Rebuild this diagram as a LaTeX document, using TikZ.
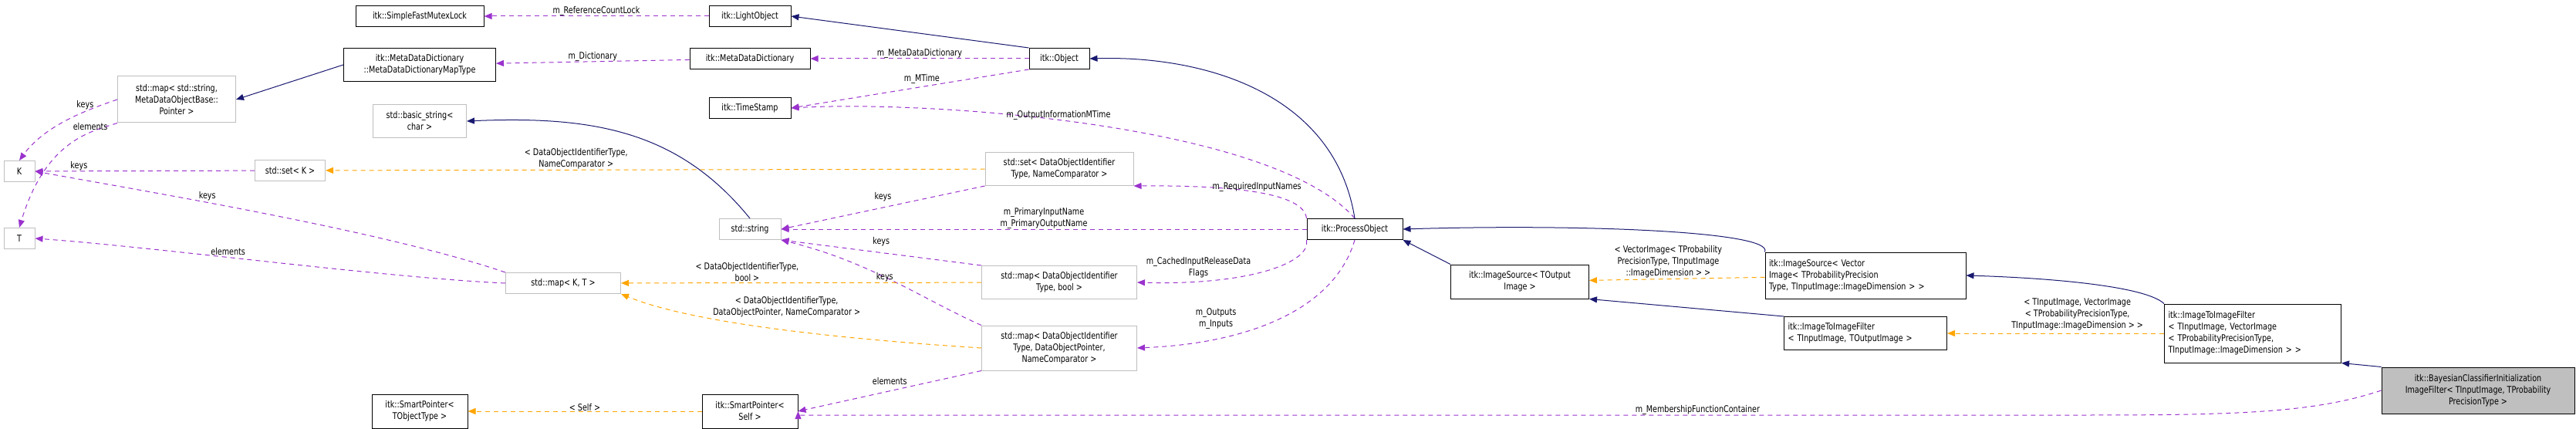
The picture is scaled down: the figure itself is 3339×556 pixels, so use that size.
\documentclass[tikz,border=0pt]{standalone}
\usepackage{fontspec}
\setmainfont{DejaVu Sans}[FakeStretch=0.8]
\usetikzlibrary{arrows.meta}
\definecolor{inhc}{HTML}{191970}
\definecolor{usec}{HTML}{9A32CD}
\definecolor{tplc}{HTML}{FFA500}
\definecolor{gbord}{HTML}{BFBFBF}
\begin{document}
\begin{tikzpicture}[x=1pt,y=-1pt,
  every node/.style={font=\fontsize{12}{15}\selectfont, inner sep=2pt},
  box/.style={draw=black, line width=1pt, fill=white, align=center},
  gbox/.style={draw=gbord, line width=1pt, fill=white, align=center},
  inh/.style={draw=inhc, line width=1pt, -{Triangle[length=10pt,width=8pt]}},
  use/.style={draw=usec, line width=1pt, dash pattern=on 6pt off 5pt, -{Triangle[length=10pt,width=8pt]}},
  tpl/.style={draw=tplc, line width=1pt, dash pattern=on 6pt off 5pt, -{Triangle[length=10pt,width=8pt]}},
  lbl/.style={align=center, fill=none}]
\useasboundingbox (0,0) rectangle (3339,556);
% nodes
\node[box, minimum width=166, minimum height=27] (sfml) at (544,21) {itk::SimpleFastMutexLock};
\node[box, minimum width=106, minimum height=27] (lo) at (972,21) {itk::LightObject};
\node[box, minimum width=197, minimum height=43] (mddmt) at (544,84) {itk::MetaDataDictionary\\::MetaDataDictionaryMapType};
\node[box, minimum width=156, minimum height=27] (mdd) at (972,76) {itk::MetaDataDictionary};
\node[box, minimum width=78, minimum height=27] (obj) at (1373,76) {itk::Object};
\node[box, minimum width=106, minimum height=27] (ts) at (972,140) {itk::TimeStamp};
\node[gbox, minimum width=153, minimum height=60] (mapstr) at (229,129) {std::map< std::string,\\MetaDataObjectBase::\\Pointer >};
\node[gbox, minimum width=121, minimum height=43] (bs) at (544,157) {std::basic\_string<\\char >};
\node[gbox, minimum width=40, minimum height=27] (K) at (25,222) {K};
\node[gbox, minimum width=40, minimum height=27] (T) at (25,309) {T};
\node[gbox, minimum width=91, minimum height=27] (setK) at (376,221) {std::set< K >};
\node[gbox, minimum width=192, minimum height=43] (setdoi) at (1373,219) {std::set< DataObjectIdentifier\\Type, NameComparator >};
\node[gbox, minimum width=80, minimum height=27] (str) at (972,297) {std::string};
\node[box, minimum width=124, minimum height=27] (po) at (1756,297) {itk::ProcessObject};
\node[gbox, minimum width=149, minimum height=27] (mapKT) at (730,367) {std::map< K, T >};
\node[gbox, minimum width=201, minimum height=43] (mapbool) at (1373,366) {std::map< DataObjectIdentifier\\Type, bool >};
\node[gbox, minimum width=201, minimum height=58] (mapdop) at (1373,451) {std::map< DataObjectIdentifier\\Type, DataObjectPointer,\\NameComparator >};
\node[box, minimum width=124, minimum height=44] (sps) at (972,533) {itk::SmartPointer<\\Self >};
\node[box, minimum width=124, minimum height=44] (spt) at (544,533) {itk::SmartPointer<\\TObjectType >};
\node[box, minimum width=179, minimum height=44] (iso) at (1970,365) {itk::ImageSource< TOutput\\Image >};
\node[box, align=left, minimum width=260, minimum height=60, text width=250] (isv) at (2418,357) {itk::ImageSource< Vector\\Image< TProbabilityPrecision\\Type, TInputImage::ImageDimension > >};
\node[box, align=left, minimum width=211, minimum height=43, text width=201] (itio) at (2418,432) {itk::ImageToImageFilter\\< TInputImage, TOutputImage >};
\node[box, align=left, minimum width=229, minimum height=76, text width=219] (itiv) at (2920,432) {itk::ImageToImageFilter\\< TInputImage, VectorImage\\< TProbabilityPrecisionType,\\ TInputImage::ImageDimension > >};
\node[box, fill=gbord, minimum width=250, minimum height=60] (bay) at (3212,506) {itk::BayesianClassifierInitialization\\ImageFilter< TInputImage, TProbability\\PrecisionType >};
% edges
\draw[use] (lo) -- node[lbl, above=-2pt, pos=0.5] {m\_ReferenceCountLock} (sfml);
\draw[inh] (obj.north west) -- (lo.east);
\draw[use] (mdd) -- node[lbl, above=-2pt] {m\_Dictionary} (mddmt);
\draw[use] (obj) -- node[lbl, above=-2pt] {m\_MetaDataDictionary} (mdd);
\draw[use] (obj.south west) -- node[lbl, above=2pt, pos=0.45] {m\_MTime} (ts.east);
\draw[use] (po.north) .. controls (1650,160) and (1200,130) .. node[lbl, above=-2pt, pos=0.55] {m\_OutputInformationMTime} (ts.east);
\draw[inh] (po.north) .. controls (1730,120) and (1560,72) .. (obj.east);
\draw[inh] (mddmt.west) -- (mapstr.east);
\draw[use] (mapstr.west) .. controls (120,140) and (60,160) .. node[lbl, above, pos=0.35] {keys} (K.north);
\draw[use] (mapstr.south west) .. controls (120,170) and (60,180) .. node[lbl, above, pos=0.3] {elements} (T.north);
\draw[use] (setK) -- node[lbl, above=-2pt, pos=0.8] {keys} (K);
\draw[use] (mapKT.north west) .. controls (500,300) and (200,250) .. node[lbl, above, pos=0.62] {keys} (K.east);
\draw[use] (mapKT.west) .. controls (500,360) and (200,320) .. node[lbl, above, pos=0.58] {elements} (T.east);
\draw[tpl] (setdoi) -- node[lbl, above=-1pt, pos=0.62] {< DataObjectIdentifierType,\\NameComparator >} (setK);
\draw[inh] (str.north) .. controls (880,170) and (770,150) .. (bs.east);
\draw[use] (setdoi.south west) -- node[lbl, above=6pt, pos=0.5] {keys} (str.east);
\draw[use] (po) -- node[lbl, above=-2pt, pos=0.5] {m\_PrimaryInputName\\m\_PrimaryOutputName} (str);
\draw[use] (mapbool.north west) -- node[lbl, above=6pt, pos=0.5] {keys} (str.south east);
\draw[use] (mapdop.north west) .. controls (1200,390) and (1130,340) .. node[lbl, pos=0.55] {keys} (str.south east);
\draw[tpl] (mapbool) -- node[lbl, above=-1pt, pos=0.65] {< DataObjectIdentifierType,\\bool >} (mapKT);
\draw[tpl] (mapdop.west) .. controls (1100,440) and (900,420) .. node[lbl, above=14pt, pos=0.48] {< DataObjectIdentifierType,\\DataObjectPointer, NameComparator >} (mapKT.south east);
\draw[use] (mapdop.south west) -- node[lbl, above=6pt, pos=0.5] {elements} (sps.east);
\draw[use] (po.north west) .. controls (1690,250) and (1600,240) .. node[lbl, above=-2pt, pos=0.5] {m\_RequiredInputNames} (setdoi.south east);
\draw[use] (po.south west) .. controls (1700,340) and (1620,370) .. node[lbl, above=2pt, pos=0.8] {m\_CachedInputReleaseData\\Flags} (mapbool.east);
\draw[use] (po.south) .. controls (1730,400) and (1620,445) .. node[lbl, above=10pt, pos=0.75] {m\_Outputs\\m\_Inputs} (mapdop.east);
\draw[tpl] (sps) -- node[lbl, above=-2pt] {< Self >} (spt);
\draw[use] (bay.west) .. controls (3000,535) and (2900,538) .. (2700,538) -- node[lbl, above=-2pt, pos=0.3] {m\_MembershipFunctionContainer} (sps.east |- 0,538) -- (sps.east);
\draw[inh] (iso.north west) -- (po.south east);
\draw[inh] (isv.north west) .. controls (2300,300) and (2050,290) .. (po.east);
\draw[tpl] (isv) -- node[lbl, above=-1pt, pos=0.55] {< VectorImage< TProbability\\PrecisionType, TInputImage\\::ImageDimension > >} (iso);
\draw[inh] (itio.north west) -- (iso.south east);
\draw[inh] (itiv.north west) .. controls (2780,370) and (2650,360) .. (isv.east);
\draw[tpl] (itiv) -- node[lbl, above=2pt, pos=0.4] {< TInputImage, VectorImage\\< TProbabilityPrecisionType,\\ TInputImage::ImageDimension > >} (itio);
\draw[inh] (bay.north west) -- (itiv.south east);
\end{tikzpicture}
\end{document}
